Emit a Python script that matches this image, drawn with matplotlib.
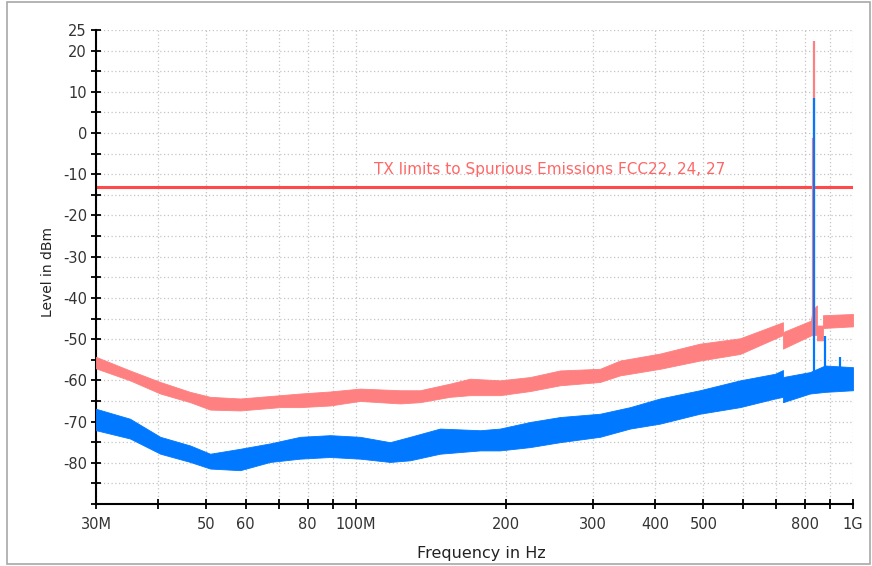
import numpy as np
import matplotlib
matplotlib.use('Agg')
import matplotlib.pyplot as plt
from matplotlib.patches import Rectangle
from matplotlib.ticker import FixedLocator, NullLocator, FuncFormatter

# frequency in MHz, upper / lower envelope of the noisy traces in dBm
pink_freq = [30, 35.1, 40.4, 46.4, 50.9, 58.5, 70.4, 77.2, 88.7, 101.9, 122.6, 134.5,
             154.6, 169.6, 194.9, 224, 257.4, 309.7, 339.8, 409, 492, 592.5, 723, 723,
             823, 829, 846, 846, 870, 870, 1000]
pink_upper = [-54.3, -57.6, -60.4, -62.8, -64.0, -64.4, -63.6, -63.2, -62.7, -62.0, -62.4, -62.4,
              -60.8, -59.6, -60.0, -59.2, -57.6, -57.2, -55.2, -53.5, -51.1, -49.8, -45.9, -48.3,
              -45.5, -43.0, -41.8, -46.7, -46.7, -44.2, -43.9]
pink_lower = [-57.1, -60.0, -63.2, -65.3, -67.1, -67.3, -66.5, -66.5, -66.1, -65.0, -65.6, -65.3,
              -64.0, -63.6, -63.6, -62.6, -61.2, -60.4, -58.8, -57.2, -55.2, -53.6, -49.0, -52.3,
              -49.1, -49.0, -49.0, -50.3, -50.3, -47.3, -46.9]

blue_freq = [30, 35.1, 40.4, 46.4, 50.9, 58.5, 67.2, 77.2, 88.7, 101.9, 117.1, 128.5,
             147.6, 177.7, 194.9, 224, 257.4, 309.7, 356, 409, 492, 592.5, 697, 723,
             723, 819, 878, 1000]
blue_upper = [-66.9, -69.3, -73.7, -75.8, -77.8, -76.6, -75.3, -73.7, -73.3, -73.7, -75.0, -73.7,
              -71.7, -72.1, -71.7, -70.1, -68.9, -68.1, -66.5, -64.4, -62.4, -60.0, -58.4, -57.5,
              -59.2, -58.0, -56.4, -56.8]
blue_lower = [-72.1, -74.1, -77.8, -79.8, -81.4, -81.8, -79.8, -79.0, -78.6, -79.0, -79.8, -79.4,
              -77.8, -77.0, -77.0, -76.2, -75.0, -73.7, -71.7, -70.5, -68.1, -66.5, -64.4, -64.0,
              -65.3, -63.2, -62.8, -62.4]

# narrow carrier spikes
pink_spike_freq = [829, 834.6]
pink_spike_base = [-49.0, -49.0]
pink_spike_peak = [-1.1, 22.4]
blue_spike_freq = [834.6, 878, 943]
blue_spike_base = [-62.0, -61.0, -60.0]
blue_spike_peak = [8.6, -49.3, -54.4]

limit_level = -13
limit_text = 'TX limits to Spurious Emissions FCC22, 24, 27'

x_ticks = [30, 40, 50, 60, 70, 80, 90, 100, 200, 300, 400, 500, 600, 700, 800, 900, 1000]
x_labels = {30: '30M', 50: '50', 60: '60', 80: '80', 100: '100M', 200: '200',
            300: '300', 400: '400', 500: '500', 800: '800', 1000: '1G'}
y_ticks = list(range(-90, 30, 5))

pink = '#ff8080'
blue = '#0078ff'

fig = plt.figure(figsize=(8.72, 5.66), dpi=100)
ax = fig.add_axes([96 / 872, 1 - 504 / 566, 757 / 872, 474 / 566])

ax.fill_between(pink_freq, pink_lower, pink_upper, color=pink, lw=0.6, edgecolor=pink, zorder=3)
ax.vlines(pink_spike_freq, pink_spike_base, pink_spike_peak, color=pink, lw=1.6, zorder=3)
ax.fill_between(blue_freq, blue_lower, blue_upper, color=blue, lw=0.6, edgecolor=blue, zorder=4)
ax.vlines(blue_spike_freq, blue_spike_base, blue_spike_peak, color=blue, lw=1.6, zorder=4)

ax.axhline(limit_level, color='#ff4a4a', lw=2.2, zorder=2)
ax.text(245.7, -8.9, limit_text, color='#ff6666', fontsize=11, ha='center', va='center')

ax.set_xscale('log')
ax.set_xlim(30, 1000)
ax.set_ylim(-90, 25)
ax.xaxis.set_major_locator(FixedLocator(x_ticks))
ax.xaxis.set_minor_locator(NullLocator())
ax.xaxis.set_major_formatter(FuncFormatter(lambda v, p: x_labels.get(int(round(v)), '')))
ax.yaxis.set_major_locator(FixedLocator(y_ticks))
ax.yaxis.set_major_formatter(FuncFormatter(
    lambda v, p: str(int(v)) if (v % 10 == 0 and v > -90) or v == 25 else ''))

ax.grid(True, color='#c4c4c4', ls=(0, (1, 2)), lw=0.9)
for s in ['top', 'right']:
    ax.spines[s].set_visible(False)
for s in ['left', 'bottom']:
    ax.spines[s].set_linewidth(1.5)
ax.tick_params(direction='inout', length=7, width=1.3, labelsize=10.5, colors='black')
ax.tick_params(axis='x', pad=6, labelcolor='#333333')
ax.tick_params(axis='y', pad=3, labelcolor='#333333')

ax.set_ylabel('Level in dBm', fontsize=10, color='#222222')
ax.set_xlabel('Frequency in Hz', fontsize=11.5, color='#222222')
ax.yaxis.set_label_coords(-0.054, 0.49)
ax.xaxis.set_label_coords(0.509, -0.088)

fig.add_artist(Rectangle((7 / 872, 2 / 566), 863 / 872, 562 / 566, transform=fig.transFigure,
                         fill=False, edgecolor='#a8a8a8', lw=1.2))

fig.savefig('out.png', dpi=100)
